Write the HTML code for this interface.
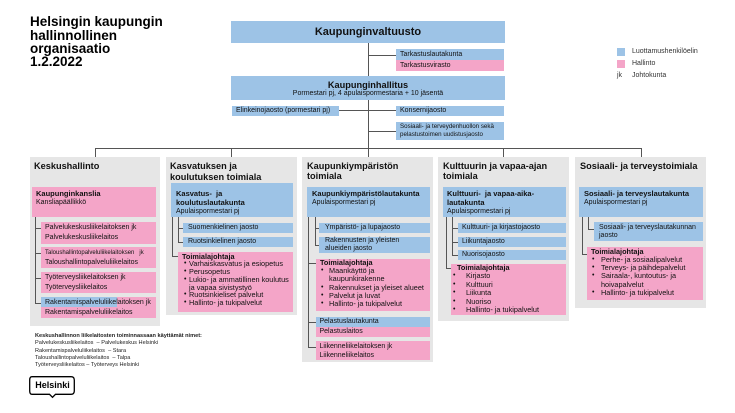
<!DOCTYPE html>
<html><head><meta charset="utf-8">
<style>
*{margin:0;padding:0;box-sizing:border-box}
body{width:735px;height:413px;background:#fff;position:relative;overflow:hidden;font-family:"Liberation Sans",Arial,sans-serif;color:#111}
.a{position:absolute;white-space:nowrap}
.bl{position:absolute;background:#9DC3E6;white-space:nowrap}
.pk{position:absolute;background:#F4A5C8;white-space:nowrap}
.gr{position:absolute;background:#E6E6E6}
.t7{font-size:7px}
.ct{position:absolute;font-size:9.2px;font-weight:bold;line-height:10.5px;white-space:nowrap}
.bt{font-weight:bold;font-size:7.5px}
.rg{font-size:7px}
.li{position:relative;white-space:nowrap;font-size:7.3px}
.li:before{content:"\2022";position:absolute;font-size:7px}
.c2 .li{padding-left:11px}.c2 .li:before{left:6px}
.c3 .li{padding-left:13px}.c3 .li:before{left:5px}
.c4 .li{padding-left:15px}.c4 .li:before{left:2px}
.c5 .li{padding-left:14px}.c5 .li:before{left:5px}
</style></head><body>

<!-- title -->
<div class="a" style="left:30px;top:15.3px;font-size:13.5px;font-weight:bold;line-height:13.3px;color:#000">Helsingin kaupungin<br>hallinnollinen<br>organisaatio<br>1.2.2022</div>

<!-- legend -->
<div class="bl" style="left:617px;top:48px;width:8px;height:8px"></div>
<div class="a t7" style="left:632px;top:48px;line-height:8px;color:#333">Luottamushenkilöelin</div>
<div class="pk" style="left:617px;top:60px;width:8px;height:8px"></div>
<div class="a t7" style="left:632px;top:60px;line-height:8px;color:#333">Hallinto</div>
<div class="a t7" style="left:617px;top:72px;line-height:8px;color:#333">jk</div>
<div class="a t7" style="left:632px;top:72px;line-height:8px;color:#333">Johtokunta</div>

<!-- gray columns -->
<div class="gr" style="left:30px;top:157px;width:130px;height:169px"></div>
<div class="gr" style="left:166px;top:157px;width:131px;height:158px"></div>
<div class="gr" style="left:302px;top:157px;width:131px;height:205px"></div>
<div class="gr" style="left:438px;top:157px;width:131px;height:164px"></div>
<div class="gr" style="left:575px;top:157px;width:131px;height:151px"></div>

<!-- connector lines -->
<svg class="a" style="left:0;top:0" width="735" height="413" viewBox="0 0 735 413">
<g fill="none" stroke="#555" stroke-width="1" shape-rendering="crispEdges">
<path d="M368.5 43V157M368 55.5H396M339 110.5H396M368 131.5H396M95.5 148.5H641.5M95.5 148V157M231.5 148V157M503.5 148V157M641.5 148V157"/>
<path d="M35.5 217V303.5M35 228.5H41M35 253.5H41M35 278.5H41M35 303.5H41"/>
<path d="M172.5 217V256.5H178M178.5 217V242.5H183M178 228.5H183"/>
<path d="M308.5 217V347.5H316M308 263.5H316M308 322.5H316M315.5 217V245.5H319M315 228.5H319"/>
<path d="M446.5 217V268.5H451M452.5 217V255.5H458M452 228.5H458M452 242.5H458"/>
<path d="M582.5 217V254.5H587M588.5 217V229.5H594"/>
</g>
</svg>

<!-- top boxes -->
<div class="bl" style="left:231px;top:21px;width:274px;height:22px;text-align:center;font-size:11px;font-weight:bold;line-height:22px">Kaupunginvaltuusto</div>
<div class="bl t7" style="left:396px;top:49px;width:108px;height:11px;line-height:11px;padding-left:4px">Tarkastuslautakunta</div>
<div class="pk t7" style="left:396px;top:60px;width:108px;height:11px;line-height:11px;padding-left:4px">Tarkastusvirasto</div>
<div class="bl" style="left:231px;top:76px;width:274px;height:24px;text-align:center;padding-top:3.5px">
<div style="font-size:9.2px;font-weight:bold;line-height:10px">Kaupunginhallitus</div>
<div style="font-size:7px;line-height:8px">Pormestari pj, 4 apulaispormestaria + 10 jäsentä</div>
</div>
<div class="bl t7" style="left:232px;top:106px;width:107px;height:10px;line-height:10px;padding-left:4px">Elinkeinojaosto (pormestari pj)</div>
<div class="bl t7" style="left:396px;top:106px;width:108px;height:10px;line-height:10px;padding-left:4px">Konsernijaosto</div>
<div class="bl" style="left:396px;top:122px;width:108px;height:18px;font-size:6.2px;line-height:8px;padding:1px 0 0 4px">Sosiaali- ja terveydenhuollon sekä<br>pelastustoimen uudistusjaosto</div>

<!-- column titles -->
<div class="ct" style="left:34px;top:160.75px">Keskushallinto</div>
<div class="ct" style="left:170px;top:160.5px;line-height:11px">Kasvatuksen ja<br>koulutuksen toimiala</div>
<div class="ct" style="left:307px;top:160.75px">Kaupunkiympäristön<br>toimiala</div>
<div class="ct" style="left:443px;top:160.75px">Kulttuurin ja vapaa-ajan<br>toimiala</div>
<div class="ct" style="left:580px;top:160.75px">Sosiaali- ja terveystoimiala</div>

<!-- col 1 -->
<div class="pk" style="left:32px;top:187px;width:124px;height:30px;padding:2px 4px;line-height:9px">
<div class="bt">Kaupunginkanslia</div><div class="rg">Kansliapäällikkö</div></div>
<div class="pk t7" style="left:41px;top:222px;width:115px;height:22px;line-height:10px;padding:1px 0 0 4px">Palvelukeskusliikelaitoksen jk<br>Palvelukeskusliikelaitos</div>
<div class="pk t7" style="left:41px;top:247px;width:115px;height:21px;line-height:10px;padding:0.5px 0 0 4px"><span style="font-size:6px">Taloushallintopalveluliikelaitoksen &nbsp; jk</span><br>Taloushallintopalveluliikelaitos</div>
<div class="pk t7" style="left:41px;top:272px;width:115px;height:21px;line-height:10px;padding:1px 0 0 4px">Työterveysliikelaitoksen jk<br>Työterveysliikelaitos</div>
<div class="pk t7" style="left:41px;top:297px;width:115px;height:21px">
<div style="position:absolute;left:0;top:0;width:76px;height:10px;background:#9DC3E6"></div>
<div style="position:relative;line-height:10px;padding:1px 0 0 4px">Rakentamispalveluliikelaitoksen jk<br>Rakentamispalveluliikelaitos</div></div>

<div class="a" style="left:35px;top:333px;font-size:5.6px;line-height:7.3px;color:#222"><b>Keskushallinnon liikelaitosten toiminnassaan käyttämät nimet:</b><br>Palvelukeskusliikelaitos &nbsp;– Palvelukeskus Helsinki<br>Rakentamispalveluliikelaitos &nbsp;– Stara<br>Taloushallintopalveluliikelaitos &nbsp;– Talpa<br>Työterveysliikelaitos – Työterveys Helsinki</div>

<svg class="a" style="left:28px;top:375px" width="50" height="24" viewBox="0 0 50 24">
<path d="M4 1.7H43Q46.3 1.7 46.3 5V16Q46.3 19.3 43 19.3H27.5L24.5 22.3L21.5 19.3H4Q1.7 19.3 1.7 16V5Q1.7 1.7 4 1.7Z" fill="#fff" stroke="#000" stroke-width="1.3"/>
</svg>
<div class="a" style="left:29px;top:377px;width:47px;text-align:center;font-size:9px;font-weight:bold;line-height:17px;color:#000">Helsinki</div>

<!-- col 2 -->
<div class="bl" style="left:171px;top:183px;width:122px;height:34px;padding:5.5px 5px 0;line-height:9px">
<div class="bt">Kasvatus- &nbsp;ja</div><div class="bt">koulutuslautakunta</div><div class="rg">Apulaispormestari pj</div></div>
<div class="bl t7" style="left:183px;top:223px;width:110px;height:10px;line-height:10px;padding-left:5px">Suomenkielinen jaosto</div>
<div class="bl t7" style="left:183px;top:237px;width:110px;height:10px;line-height:10px;padding-left:5px">Ruotsinkielinen jaosto</div>
<div class="pk c2" style="left:178px;top:252px;width:115px;height:60px;padding-top:0.5px;line-height:7.8px">
<div class="bt" style="padding-left:4px;font-size:7.3px">Toimialajohtaja</div>
<div class="li">Varhaiskasvatus ja esiopetus</div>
<div class="li">Perusopetus</div>
<div class="li">Lukio- ja ammatillinen koulutus<br>ja vapaa sivistystyö</div>
<div class="li">Ruotsinkieliset palvelut</div>
<div class="li">Hallinto- ja tukipalvelut</div>
</div>

<!-- col 3 -->
<div class="bl" style="left:307px;top:187px;width:123px;height:30px;padding:2px 5px;line-height:9px">
<div class="bt">Kaupunkiympäristölautakunta</div><div class="rg">Apulaispormestari pj</div></div>
<div class="bl t7" style="left:319px;top:223px;width:111px;height:10px;line-height:10px;padding-left:6px">Ympäristö- ja lupajaosto</div>
<div class="bl t7" style="left:319px;top:237px;width:111px;height:16px;line-height:8px;padding:0 0 0 6px">Rakennusten ja yleisten<br>alueiden jaosto</div>
<div class="pk c3" style="left:316px;top:259px;width:114px;height:52px;line-height:8.2px">
<div class="bt" style="padding-left:4px;font-size:7.3px">Toimialajohtaja</div>
<div class="li">Maankäyttö ja<br>kaupunkirakenne</div>
<div class="li">Rakennukset ja yleiset alueet</div>
<div class="li">Palvelut ja luvat</div>
<div class="li">Hallinto- ja tukipalvelut</div>
</div>
<div class="bl t7" style="left:316px;top:317px;width:114px;height:10px;line-height:10px;padding-left:3.5px">Pelastuslautakunta</div>
<div class="pk t7" style="left:316px;top:327px;width:114px;height:10px;line-height:10px;padding-left:3.5px">Pelastuslaitos</div>
<div class="pk t7" style="left:316px;top:341px;width:114px;height:19px;line-height:9px;padding:1px 0 0 3.5px">Liikenneliikelaitoksen jk<br>Liikenneliikelaitos</div>

<!-- col 4 -->
<div class="bl" style="left:443px;top:187px;width:123px;height:30px;padding:2px 4px;line-height:9px">
<div class="bt">Kulttuuri- &nbsp;ja vapaa-aika-</div><div class="bt">lautakunta</div><div class="rg">Apulaispormestari pj</div></div>
<div class="bl t7" style="left:458px;top:223px;width:108px;height:10px;line-height:10px;padding-left:4px">Kulttuuri- ja kirjastojaosto</div>
<div class="bl t7" style="left:458px;top:237px;width:108px;height:10px;line-height:10px;padding-left:4px">Liikuntajaosto</div>
<div class="bl t7" style="left:458px;top:250px;width:108px;height:10px;line-height:10px;padding-left:4px">Nuorisojaosto</div>
<div class="pk c4" style="left:451px;top:264px;width:115px;height:51px;line-height:8.4px">
<div class="bt" style="padding-left:6px;font-size:7.3px">Toimialajohtaja</div>
<div class="li">Kirjasto</div>
<div class="li">Kulttuuri</div>
<div class="li">Liikunta</div>
<div class="li">Nuoriso</div>
<div class="li">Hallinto- ja tukipalvelut</div>
</div>

<!-- col 5 -->
<div class="bl" style="left:579px;top:187px;width:124px;height:30px;padding:2px 5px;line-height:9px">
<div class="bt">Sosiaali- ja terveyslautakunta</div><div class="rg">Apulaispormestari pj</div></div>
<div class="bl t7" style="left:594px;top:222px;width:109px;height:19px;line-height:8.3px;padding:1.5px 0 0 5px">Sosiaali- ja terveyslautakunnan<br>jaosto</div>
<div class="pk c5" style="left:587px;top:247px;width:116px;height:53px;padding-top:0.5px;line-height:8.3px">
<div class="bt" style="padding-left:4px;font-size:7.3px">Toimialajohtaja</div>
<div class="li">Perhe- ja sosiaalipalvelut</div>
<div class="li">Terveys- ja päihdepalvelut</div>
<div class="li">Sairaala-, kuntoutus- ja<br>hoivapalvelut</div>
<div class="li">Hallinto- ja tukipalvelut</div>
</div>

</body></html>
